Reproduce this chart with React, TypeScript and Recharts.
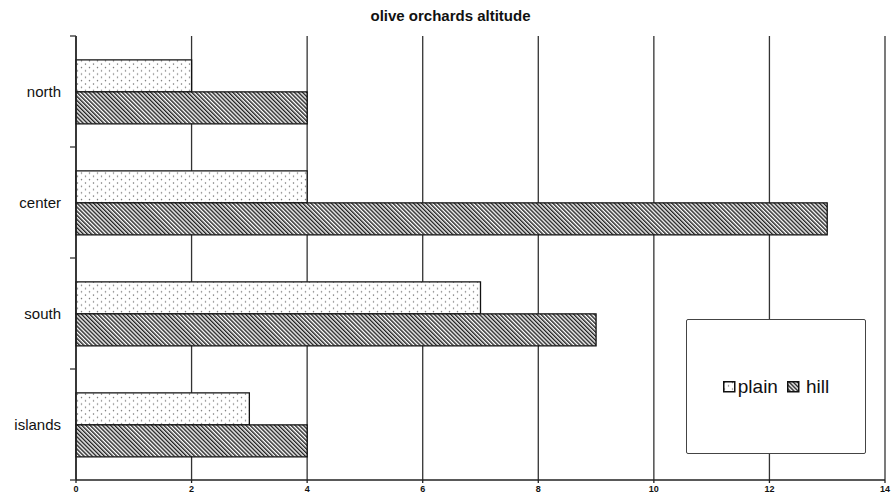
import React from 'react';
import { Bar, BarChart, CartesianGrid, Legend, XAxis, YAxis } from 'recharts';

const regions = ['north', 'center', 'south', 'islands'];
const plain = [2, 4, 7, 3];
const hill = [4, 13, 9, 4];
const xTicks = [0, 2, 4, 6, 8, 10, 12, 14];

const data = regions.map((region, i) => ({ region, plain: plain[i], hill: hill[i] }));

const W = 892;
const H = 499;
const TOP = 36;
const BOTTOM_AXIS = 19;
const AXIS_W = 76;
const halfBand = (H - BOTTOM_AXIS - TOP) / regions.length / 2;

// category label, plus a small tick on the band boundary above it (and below the last one)
function RegionTick(props: any) {
  const { x, y, payload, index } = props;
  const last = index === regions.length - 1;
  return (
    <g>
      <text x={x - 15} y={y} dy={5} textAnchor="end" fontSize={15} fill="#111"
        fontFamily="'Liberation Sans', Arial, sans-serif">
        {payload.value}
      </text>
      <line x1={x - 6} x2={x} y1={y - halfBand} y2={y - halfBand} stroke="#333" strokeWidth={1.3} />
      {last && <line x1={x - 6} x2={x} y1={y + halfBand} y2={y + halfBand} stroke="#333" strokeWidth={1.3} />}
    </g>
  );
}

function LegendBox() {
  return (
    <div style={{
      boxSizing: 'border-box', width: 180, height: 135, border: '1.5px solid #444', borderRadius: 2,
      background: '#fff', display: 'flex', alignItems: 'center', justifyContent: 'center',
      fontFamily: "'Liberation Sans', Arial, sans-serif", fontSize: 19, color: '#111',
    }}>
      <svg width={13} height={12} style={{ marginRight: 2 }}>
        <rect x={0.75} y={0.75} width={11} height={10} fill="url(#dots)" stroke="#111" strokeWidth={1.5} />
      </svg>
      <span style={{ marginRight: 9 }}>plain</span>
      <svg width={13} height={12} style={{ marginRight: 6 }}>
        <rect x={0.75} y={0.75} width={11} height={10} fill="url(#hatch)" stroke="#111" strokeWidth={1.5} />
      </svg>
      <span>hill</span>
    </div>
  );
}

export default function App() {
  return (
    <div style={{ position: 'absolute', left: 0, top: 0, width: W, height: H, background: '#fff' }}>
      <svg width={0} height={0} style={{ position: 'absolute' }}>
        <defs>
          <pattern id="dots" patternUnits="userSpaceOnUse" width={8} height={6.6}>
            <rect width={8} height={6.6} fill="#fff" />
            <circle cx={1.5} cy={1.5} r={0.75} fill="#777" />
            <circle cx={5.5} cy={4.8} r={0.75} fill="#777" />
          </pattern>
          <pattern id="hatch" patternUnits="userSpaceOnUse" width={2.9} height={2.9} patternTransform="rotate(-45)">
            <rect width={2.9} height={2.9} fill="#fff" />
            <line x1={0.7} y1={0} x2={0.7} y2={2.9} stroke="#222" strokeWidth={1.5} />
          </pattern>
        </defs>
      </svg>
      <div style={{
        position: 'absolute', left: 0, width: W, top: 7, textAlign: 'center',
        fontFamily: "'Liberation Sans', Arial, sans-serif", fontWeight: 'bold', fontSize: 15, color: '#111',
      }}>
        <span style={{ marginLeft: 9 }}>olive orchards altitude</span>
      </div>
      <BarChart
        width={W}
        height={H}
        data={data}
        layout="vertical"
        margin={{ top: TOP, right: 7, bottom: 0, left: 0 }}
        barCategoryGap="21.5%"
        barGap={0}
      >
        <CartesianGrid horizontal={false} stroke="#333" strokeWidth={1.3} />
        <XAxis
          type="number"
          domain={[0, 14]}
          ticks={xTicks}
          interval={0}
          height={BOTTOM_AXIS}
          tickSize={3}
          tickMargin={3}
          axisLine={{ stroke: '#222', strokeWidth: 1.5 }}
          tickLine={{ stroke: '#222', strokeWidth: 1.3 }}
          tick={{ fill: '#111', fontSize: 9, fontWeight: 'bold', fontFamily: "'Liberation Sans', Arial, sans-serif" }}
        />
        <XAxis
          xAxisId="top"
          orientation="top"
          type="number"
          domain={[0, 14]}
          height={0}
          tick={false}
          tickLine={false}
          axisLine={{ stroke: '#333', strokeWidth: 1.5 }}
        />
        <YAxis
          type="category"
          dataKey="region"
          width={AXIS_W}
          axisLine={{ stroke: '#222', strokeWidth: 1.5 }}
          tickLine={false}
          tickSize={0}
          tickMargin={0}
          tick={<RegionTick />}
          interval={0}
        />
        <Legend
          layout="horizontal"
          verticalAlign="middle"
          align="center"
          content={() => <LegendBox />}
          wrapperStyle={{ position: 'absolute', left: 686, top: 319, width: 180, height: 135, bottom: 'auto' }}
        />
        <Bar dataKey="plain" name="plain" fill="url(#dots)" stroke="#111" strokeWidth={1.3} isAnimationActive={false} />
        <Bar dataKey="hill" name="hill" fill="url(#hatch)" stroke="#111" strokeWidth={1.3} isAnimationActive={false} />
      </BarChart>
    </div>
  );
}
